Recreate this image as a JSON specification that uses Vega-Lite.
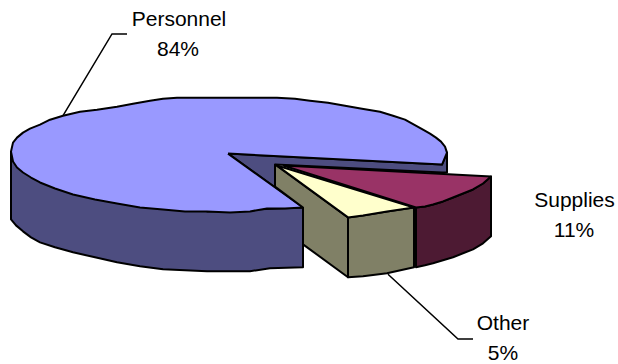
{
  "$schema": "https://vega.github.io/schema/vega-lite/v6.json",
  "width": 618,
  "height": 364,
  "autosize": {"type": "fit", "contains": "padding"},
  "padding": 0,
  "background": "white",
  "view": {"stroke": null},
  "datasets": {
    "leaders": [
      {"to": "Personnel", "n": 1, "x": 63, "y": 116},
      {"to": "Personnel", "n": 2, "x": 112, "y": 34},
      {"to": "Personnel", "n": 3, "x": 127, "y": 34},
      {"to": "Other", "n": 1, "x": 388, "y": 275},
      {"to": "Other", "n": 2, "x": 458, "y": 340},
      {"to": "Other", "n": 3, "x": 473, "y": 340}
    ],
    "faces": [
      {"face": "a_personnel_inner", "n": 1, "x": 228, "y": 154},
      {"face": "a_personnel_inner", "n": 2, "x": 442, "y": 165},
      {"face": "a_personnel_inner", "n": 3, "x": 447, "y": 153},
      {"face": "a_personnel_inner", "n": 4, "x": 447, "y": 173},
      {"face": "a_personnel_inner", "n": 5, "x": 442, "y": 173},
      {"face": "a_personnel_inner", "n": 6, "x": 275, "y": 165},
      {"face": "a_personnel_inner", "n": 7, "x": 275, "y": 188},
      {"face": "a_personnel_inner", "n": 8, "x": 228, "y": 154},

      {"face": "b_personnel_side", "n": 1, "x": 11, "y": 152},
      {"face": "b_personnel_side", "n": 2, "x": 11, "y": 220},
      {"face": "b_personnel_side", "n": 3, "x": 16, "y": 226},
      {"face": "b_personnel_side", "n": 4, "x": 23, "y": 232},
      {"face": "b_personnel_side", "n": 5, "x": 31, "y": 238},
      {"face": "b_personnel_side", "n": 6, "x": 40, "y": 243},
      {"face": "b_personnel_side", "n": 7, "x": 55, "y": 248},
      {"face": "b_personnel_side", "n": 8, "x": 73, "y": 253},
      {"face": "b_personnel_side", "n": 9, "x": 95, "y": 258},
      {"face": "b_personnel_side", "n": 10, "x": 117, "y": 263},
      {"face": "b_personnel_side", "n": 11, "x": 140, "y": 267},
      {"face": "b_personnel_side", "n": 12, "x": 163, "y": 270},
      {"face": "b_personnel_side", "n": 13, "x": 185, "y": 271},
      {"face": "b_personnel_side", "n": 14, "x": 207, "y": 272},
      {"face": "b_personnel_side", "n": 15, "x": 230, "y": 272},
      {"face": "b_personnel_side", "n": 16, "x": 250, "y": 272},
      {"face": "b_personnel_side", "n": 17, "x": 270, "y": 269},
      {"face": "b_personnel_side", "n": 18, "x": 303, "y": 268},
      {"face": "b_personnel_side", "n": 19, "x": 303, "y": 208},
      {"face": "b_personnel_side", "n": 20, "x": 207, "y": 212},
      {"face": "b_personnel_side", "n": 21, "x": 11, "y": 152},

      {"face": "c_personnel_top", "n": 1, "x": 228, "y": 154},
      {"face": "c_personnel_top", "n": 2, "x": 442, "y": 165},
      {"face": "c_personnel_top", "n": 3, "x": 447, "y": 153},
      {"face": "c_personnel_top", "n": 4, "x": 445, "y": 147},
      {"face": "c_personnel_top", "n": 5, "x": 441, "y": 142},
      {"face": "c_personnel_top", "n": 6, "x": 436, "y": 138},
      {"face": "c_personnel_top", "n": 7, "x": 430, "y": 134},
      {"face": "c_personnel_top", "n": 8, "x": 423, "y": 130},
      {"face": "c_personnel_top", "n": 9, "x": 414, "y": 125},
      {"face": "c_personnel_top", "n": 10, "x": 405, "y": 120},
      {"face": "c_personnel_top", "n": 11, "x": 393, "y": 116},
      {"face": "c_personnel_top", "n": 12, "x": 380, "y": 112},
      {"face": "c_personnel_top", "n": 13, "x": 362, "y": 109},
      {"face": "c_personnel_top", "n": 14, "x": 345, "y": 106},
      {"face": "c_personnel_top", "n": 15, "x": 328, "y": 103},
      {"face": "c_personnel_top", "n": 16, "x": 310, "y": 101},
      {"face": "c_personnel_top", "n": 17, "x": 295, "y": 99},
      {"face": "c_personnel_top", "n": 18, "x": 277, "y": 98},
      {"face": "c_personnel_top", "n": 19, "x": 177, "y": 98},
      {"face": "c_personnel_top", "n": 20, "x": 163, "y": 99},
      {"face": "c_personnel_top", "n": 21, "x": 150, "y": 101},
      {"face": "c_personnel_top", "n": 22, "x": 133, "y": 104},
      {"face": "c_personnel_top", "n": 23, "x": 117, "y": 107},
      {"face": "c_personnel_top", "n": 24, "x": 97, "y": 110},
      {"face": "c_personnel_top", "n": 25, "x": 80, "y": 112},
      {"face": "c_personnel_top", "n": 26, "x": 63, "y": 116},
      {"face": "c_personnel_top", "n": 27, "x": 50, "y": 120},
      {"face": "c_personnel_top", "n": 28, "x": 40, "y": 125},
      {"face": "c_personnel_top", "n": 29, "x": 30, "y": 129},
      {"face": "c_personnel_top", "n": 30, "x": 23, "y": 133},
      {"face": "c_personnel_top", "n": 31, "x": 17, "y": 138},
      {"face": "c_personnel_top", "n": 32, "x": 13, "y": 143},
      {"face": "c_personnel_top", "n": 33, "x": 11, "y": 152},
      {"face": "c_personnel_top", "n": 34, "x": 13, "y": 162},
      {"face": "c_personnel_top", "n": 35, "x": 17, "y": 168},
      {"face": "c_personnel_top", "n": 36, "x": 23, "y": 173},
      {"face": "c_personnel_top", "n": 37, "x": 31, "y": 178},
      {"face": "c_personnel_top", "n": 38, "x": 40, "y": 183},
      {"face": "c_personnel_top", "n": 39, "x": 55, "y": 189},
      {"face": "c_personnel_top", "n": 40, "x": 73, "y": 195},
      {"face": "c_personnel_top", "n": 41, "x": 95, "y": 200},
      {"face": "c_personnel_top", "n": 42, "x": 117, "y": 204},
      {"face": "c_personnel_top", "n": 43, "x": 140, "y": 208},
      {"face": "c_personnel_top", "n": 44, "x": 163, "y": 210},
      {"face": "c_personnel_top", "n": 45, "x": 185, "y": 212},
      {"face": "c_personnel_top", "n": 46, "x": 207, "y": 212},
      {"face": "c_personnel_top", "n": 47, "x": 230, "y": 213},
      {"face": "c_personnel_top", "n": 48, "x": 250, "y": 212},
      {"face": "c_personnel_top", "n": 49, "x": 267, "y": 209},
      {"face": "c_personnel_top", "n": 50, "x": 285, "y": 209},
      {"face": "c_personnel_top", "n": 51, "x": 303, "y": 208},
      {"face": "c_personnel_top", "n": 52, "x": 228, "y": 154},

      {"face": "d_other_cut", "n": 1, "x": 275, "y": 165},
      {"face": "d_other_cut", "n": 2, "x": 348, "y": 218},
      {"face": "d_other_cut", "n": 3, "x": 348, "y": 278},
      {"face": "d_other_cut", "n": 4, "x": 303, "y": 245},
      {"face": "d_other_cut", "n": 5, "x": 303, "y": 208},
      {"face": "d_other_cut", "n": 6, "x": 275, "y": 187},
      {"face": "d_other_cut", "n": 7, "x": 275, "y": 165},

      {"face": "e_other_rim", "n": 1, "x": 348, "y": 218},
      {"face": "e_other_rim", "n": 2, "x": 363, "y": 216},
      {"face": "e_other_rim", "n": 3, "x": 387, "y": 212},
      {"face": "e_other_rim", "n": 4, "x": 414, "y": 208},
      {"face": "e_other_rim", "n": 5, "x": 414, "y": 268},
      {"face": "e_other_rim", "n": 6, "x": 387, "y": 274},
      {"face": "e_other_rim", "n": 7, "x": 363, "y": 277},
      {"face": "e_other_rim", "n": 8, "x": 348, "y": 278},
      {"face": "e_other_rim", "n": 9, "x": 348, "y": 218},

      {"face": "f_other_top", "n": 1, "x": 277, "y": 166},
      {"face": "f_other_top", "n": 2, "x": 348, "y": 218},
      {"face": "f_other_top", "n": 3, "x": 363, "y": 216},
      {"face": "f_other_top", "n": 4, "x": 387, "y": 212},
      {"face": "f_other_top", "n": 5, "x": 414, "y": 208},
      {"face": "f_other_top", "n": 6, "x": 277, "y": 166},

      {"face": "g_supplies_rim", "n": 1, "x": 416, "y": 208},
      {"face": "g_supplies_rim", "n": 2, "x": 425, "y": 207},
      {"face": "g_supplies_rim", "n": 3, "x": 433, "y": 205},
      {"face": "g_supplies_rim", "n": 4, "x": 443, "y": 202},
      {"face": "g_supplies_rim", "n": 5, "x": 453, "y": 198},
      {"face": "g_supplies_rim", "n": 6, "x": 463, "y": 194},
      {"face": "g_supplies_rim", "n": 7, "x": 473, "y": 190},
      {"face": "g_supplies_rim", "n": 8, "x": 483, "y": 184},
      {"face": "g_supplies_rim", "n": 9, "x": 491, "y": 177},
      {"face": "g_supplies_rim", "n": 10, "x": 491, "y": 237},
      {"face": "g_supplies_rim", "n": 11, "x": 483, "y": 244},
      {"face": "g_supplies_rim", "n": 12, "x": 473, "y": 250},
      {"face": "g_supplies_rim", "n": 13, "x": 463, "y": 254},
      {"face": "g_supplies_rim", "n": 14, "x": 453, "y": 258},
      {"face": "g_supplies_rim", "n": 15, "x": 443, "y": 261},
      {"face": "g_supplies_rim", "n": 16, "x": 433, "y": 264},
      {"face": "g_supplies_rim", "n": 17, "x": 425, "y": 266},
      {"face": "g_supplies_rim", "n": 18, "x": 416, "y": 268},
      {"face": "g_supplies_rim", "n": 19, "x": 416, "y": 208},

      {"face": "h_supplies_top", "n": 1, "x": 283, "y": 166},
      {"face": "h_supplies_top", "n": 2, "x": 491, "y": 177},
      {"face": "h_supplies_top", "n": 3, "x": 483, "y": 184},
      {"face": "h_supplies_top", "n": 4, "x": 473, "y": 190},
      {"face": "h_supplies_top", "n": 5, "x": 463, "y": 194},
      {"face": "h_supplies_top", "n": 6, "x": 453, "y": 198},
      {"face": "h_supplies_top", "n": 7, "x": 443, "y": 202},
      {"face": "h_supplies_top", "n": 8, "x": 433, "y": 205},
      {"face": "h_supplies_top", "n": 9, "x": 425, "y": 207},
      {"face": "h_supplies_top", "n": 10, "x": 416, "y": 208},
      {"face": "h_supplies_top", "n": 11, "x": 283, "y": 166}
    ],
    "labels": [
      {"text": "Personnel", "x": 179, "y": 20},
      {"text": "84%", "x": 178, "y": 50},
      {"text": "Supplies", "x": 574.5, "y": 202},
      {"text": "11%", "x": 574, "y": 232},
      {"text": "Other", "x": 503, "y": 325},
      {"text": "5%", "x": 503, "y": 355}
    ]
  },
  "encoding": {
    "x": {"field": "x", "type": "quantitative", "scale": {"domain": [0, 618], "nice": false, "zero": false}, "axis": null},
    "y": {"field": "y", "type": "quantitative", "scale": {"domain": [0, 364], "nice": false, "zero": false, "reverse": true}, "axis": null}
  },
  "layer": [
    {
      "data": {"name": "leaders"},
      "mark": {"type": "line", "stroke": "black", "strokeWidth": 1.5, "clip": false},
      "encoding": {
        "detail": {"field": "to"},
        "order": {"field": "n", "type": "quantitative"}
      }
    },
    {
      "data": {"name": "faces"},
      "mark": {"type": "line", "stroke": "black", "strokeWidth": 2, "strokeJoin": "round"},
      "encoding": {
        "fill": {
          "field": "face",
          "type": "nominal",
          "legend": null,
          "scale": {
            "domain": ["a_personnel_inner", "b_personnel_side", "c_personnel_top", "d_other_cut", "e_other_rim", "f_other_top", "g_supplies_rim", "h_supplies_top"],
            "range": ["#4D4D80", "#4D4D80", "#9999FF", "#808066", "#808066", "#FFFFCC", "#4D1A33", "#993366"]
          }
        },
        "order": {"field": "n", "type": "quantitative"}
      }
    },
    {
      "data": {"name": "labels"},
      "mark": {"type": "text", "font": "Liberation Sans", "fontSize": 21, "align": "center", "baseline": "middle", "fill": "black"},
      "encoding": {"text": {"field": "text"}}
    }
  ]
}
